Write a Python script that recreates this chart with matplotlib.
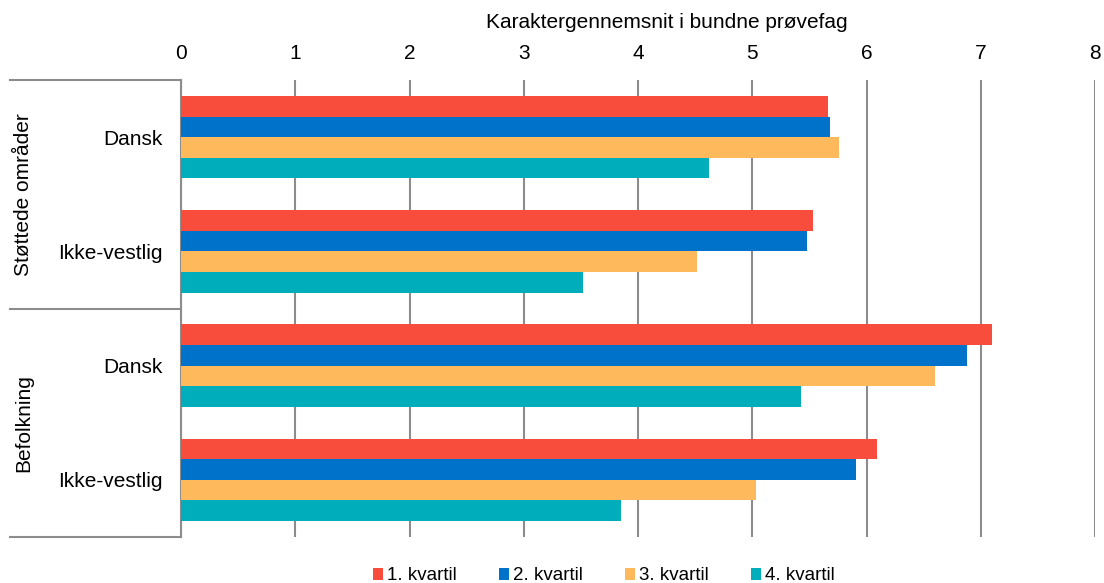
import matplotlib.pyplot as plt
import numpy as np

plt.rcParams['font.family'] = ['Liberation Sans', 'DejaVu Sans']

# categories (top to bottom) and the group they belong to
categories = ['Dansk', 'Ikke-vestlig', 'Dansk', 'Ikke-vestlig']
groups = ['Støttede områder', 'Befolkning']
series_names = ['1. kvartil', '2. kvartil', '3. kvartil', '4. kvartil']

kvartil_1 = [5.66, 5.53, 7.10, 6.09]
kvartil_2 = [5.68, 5.48, 6.88, 5.91]
kvartil_3 = [5.76, 4.52, 6.60, 5.03]
kvartil_4 = [4.62, 3.52, 5.43, 3.85]

x_ticks = [0, 1, 2, 3, 4, 5, 6, 7, 8]
x_title = 'Karaktergennemsnit i bundne prøvefag'

colors = ['#F84C3C', '#0072C9', '#FDB95B', '#00ADBA']
grid_color = '#8C8C8C'

W, H = 1104, 583
fig = plt.figure(figsize=(W / 100, H / 100), dpi=100)
ax = fig.add_axes([181 / W, 1 - 537 / H, (1095 - 181) / W, (537 - 80) / H])

y = np.arange(len(categories))
bar_h = 0.18
all_series = [kvartil_1, kvartil_2, kvartil_3, kvartil_4]
for i, (vals, c, name) in enumerate(zip(all_series, colors, series_names)):
    ax.barh(y + (i - 1.5) * bar_h, vals, height=bar_h, color=c, label=name,
            zorder=3)

ax.set_ylim(len(categories) - 0.5, -0.5)
ax.set_xlim(x_ticks[0], x_ticks[-1])
ax.set_xticks(x_ticks)
ax.xaxis.tick_top()
ax.tick_params(axis='x', length=0, pad=12.5, labelsize=15)
ax.set_yticks(y)
ax.set_yticklabels(categories)
ax.tick_params(axis='y', length=0, pad=13.5, labelsize=15)
ax.grid(axis='x', color=grid_color, linewidth=1.5, zorder=0)
for side in ['top', 'right', 'bottom']:
    ax.spines[side].set_visible(False)
ax.spines['left'].set_color(grid_color)
ax.spines['left'].set_linewidth(1.5)

# group brackets on the left
x_left = (10 - 181) / (1095 - 181)
for yy in [-0.5, 1.5, 3.5]:
    ax.plot([x_left, 0], [yy, yy], transform=ax.get_yaxis_transform(),
            color=grid_color, linewidth=1.5, clip_on=False)
x_grp = (24 - 181) / (1095 - 181)
for k, g in enumerate(groups):
    ax.text(x_grp, 2 * k + 0.5, g, transform=ax.get_yaxis_transform(),
            rotation=90, ha='center', va='center', fontsize=15)

fig.text(667 / W, 1 - 23 / H, x_title, ha='center', va='center', fontsize=15)

fig.legend(loc='center', bbox_to_anchor=(604 / W, 1 - 576 / H), ncol=4,
           frameon=False, fontsize=13.5, handlelength=0.55, handleheight=0.55,
           handletextpad=0.2, columnspacing=2.25)

fig.savefig('out.png', dpi=100)
